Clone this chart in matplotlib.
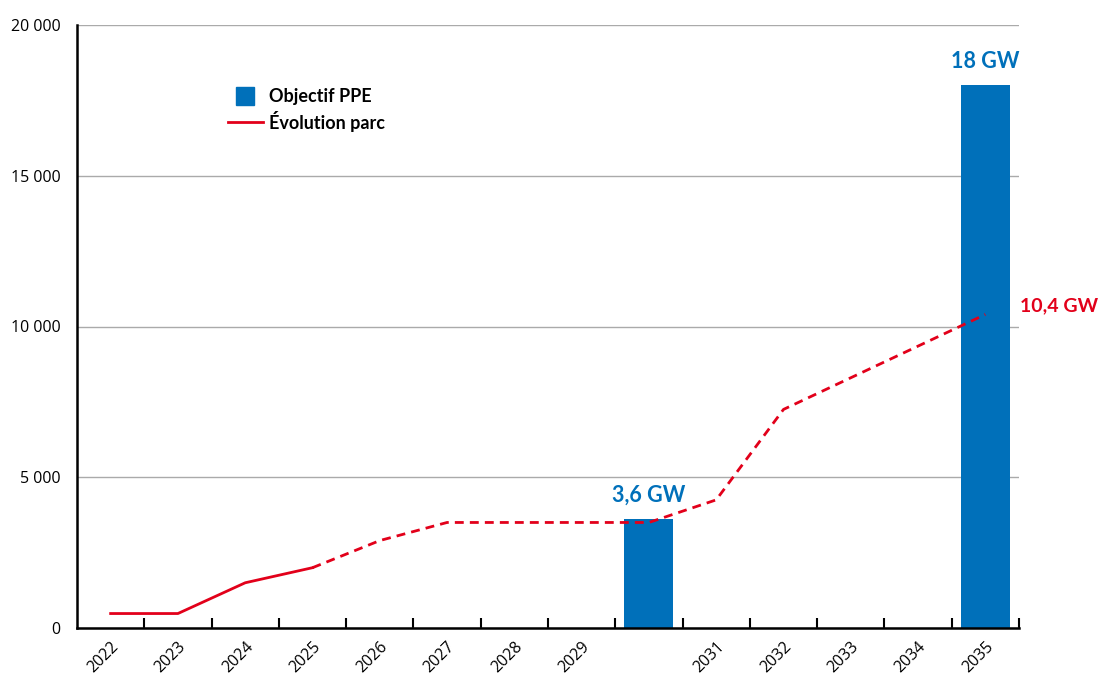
import matplotlib
matplotlib.use("Agg")
import matplotlib.pyplot as plt
from matplotlib.lines import Line2D
from matplotlib.ticker import FuncFormatter

years = ["2022", "2023", "2024", "2025", "2026", "2027", "2028", "2029",
         "2030", "2031", "2032", "2033", "2034", "2035"]
tick_labels = ["2022", "2023", "2024", "2025", "2026", "2027", "2028", "2029",
               "", "2031", "2032", "2033", "2034", "2035"]
parc = [480, 480, 1500, 2000, 2900, 3500, 3500, 3500, 3500, 4250, 7250,
        8300, 9350, 10400]
n_solid = 4  # 2022-2025 solid, after dashed
objectif_years = ["2030", "2035"]
objectif = [3600, 18000]
objectif_labels = ["3,6 GW", "18 GW"]
parc_label = "10,4 GW"

BLUE = "#0070BA"
RED = "#E2001A"

plt.rcParams['font.family'] = ['Open Sans', 'DejaVu Sans']

fig = plt.figure(figsize=(11.01, 6.75), dpi=100)
ax = fig.add_axes([77/1101, 47/675, (1019-77)/1101, (628-25)/675])

x = list(range(len(years)))
idx = {y: i for i, y in enumerate(years)}
bx = [idx[y] for y in objectif_years]

ax.bar(bx, objectif, width=0.73, color=BLUE, zorder=2)
ax.plot(x[:n_solid], parc[:n_solid], color=RED, lw=2, zorder=3)
ax.plot(x[n_solid-1:], parc[n_solid-1:], color=RED, lw=2, ls=(0, (3.2, 2.2)), zorder=3)

for xi, v, lab in zip(bx, objectif, objectif_labels):
    ax.text(xi, v + 450, lab, ha='center', va='bottom', color=BLUE,
            fontsize=15.5, fontweight='bold', family=['Lato', 'DejaVu Sans'])
ax.text(x[-1] + 0.52, parc[-1] + 300, parc_label, ha='left', va='center', color=RED,
        fontsize=14, fontweight='bold', family=['Lato', 'DejaVu Sans'], clip_on=False)

ax.set_xlim(-0.5, len(years) - 0.5)
ax.set_ylim(0, 20000)
ax.set_yticks([0, 5000, 10000, 15000, 20000])
ax.yaxis.set_major_formatter(FuncFormatter(lambda v, p: f"{int(v):,}".replace(",", " ")))
ax.yaxis.grid(True, color="#AAAAAA", lw=1)
ax.set_axisbelow(True)
ax.tick_params(axis='y', length=0, pad=12, labelsize=11.5)

ax.set_xticks(x)
ax.set_xticklabels(tick_labels, rotation=45, ha='right', rotation_mode='anchor', fontsize=11.5)
ax.tick_params(axis='x', which='major', length=0, pad=8)
ax.set_xticks([i + 0.5 for i in x], minor=True)
ax.tick_params(axis='x', which='minor', direction='in', length=7, width=1.5, color='black')

for s in ['top', 'right']:
    ax.spines[s].set_visible(False)
ax.spines['left'].set_linewidth(1.8)
ax.spines['bottom'].set_linewidth(1.8)

handles = [Line2D([], [], color=BLUE, marker='s', markersize=13, ls='none'),
           Line2D([], [], color=RED, lw=2)]
leg = ax.legend(handles, ["Objectif PPE", "Évolution parc"], loc='upper left',
                bbox_to_anchor=(212/1101, 1 - 72/675), bbox_transform=fig.transFigure,
                frameon=False, prop={'family': ['Lato', 'DejaVu Sans'], 'weight': 'bold', 'size': 13},
                handlelength=1.9, handletextpad=0.35, labelspacing=0.3)

fig.savefig("out.png", dpi=100)
